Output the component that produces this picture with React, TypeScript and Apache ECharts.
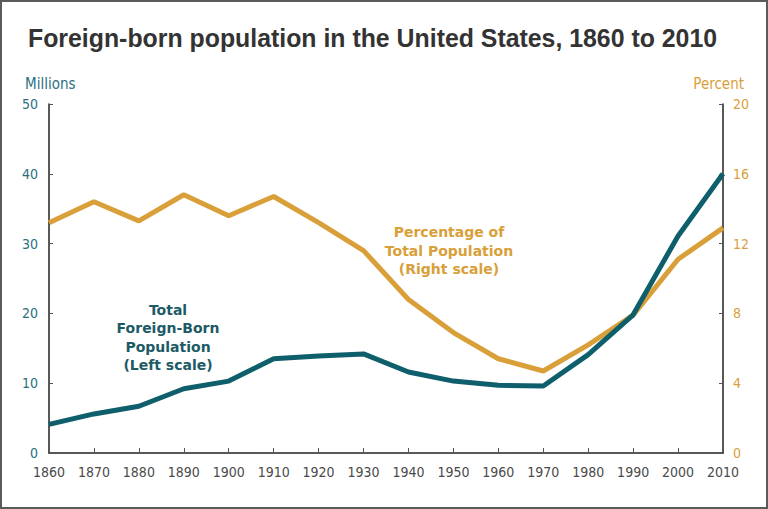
import React, { useEffect, useRef } from "react";
import * as echarts from "echarts";

const years = ["1860","1870","1880","1890","1900","1910","1920","1930","1940","1950","1960","1970","1980","1990","2000","2010"];
const foreignBornMillions = [4.1, 5.6, 6.7, 9.2, 10.3, 13.5, 13.9, 14.2, 11.6, 10.3, 9.7, 9.6, 14.1, 19.8, 31.1, 40.0];
const percentOfTotal = [13.2, 14.4, 13.3, 14.8, 13.6, 14.7, 13.2, 11.6, 8.8, 6.9, 5.4, 4.7, 6.2, 7.9, 11.1, 12.9];

const TITLE = "Foreign-born population in the United States, 1860 to 2010";
const TEAL = "#0e5f6b";
const TEAL_TEXT = "#2a7080";
const ORANGE = "#d9a03a";
const TICK_FONT = "'DejaVu Sans Condensed', 'DejaVu Sans', sans-serif";
const LABEL_FONT = "'DejaVu Sans', 'Noto Sans', sans-serif";
const TITLE_FONT = "bold 26.5px 'Liberation Sans', Arial, sans-serif";
const TITLE_WIDTH = 689;

function measure(text: string, font: string): number {
  const c = document.createElement("canvas");
  const ctx = c.getContext("2d");
  if (!ctx) return TITLE_WIDTH;
  ctx.font = font;
  return ctx.measureText(text).width || TITLE_WIDTH;
}

export default function App() {
  const ref = useRef<HTMLDivElement>(null);
  useEffect(() => {
    if (!ref.current) return;
    const chart = echarts.init(ref.current, undefined, { renderer: "svg" });
    const titleScale = TITLE_WIDTH / measure(TITLE, TITLE_FONT);
    chart.setOption({
      animation: false,
      backgroundColor: "#ffffff",
      grid: { left: 47, right: 43, top: 102, bottom: 54, containLabel: false },
      xAxis: {
        type: "category",
        data: years,
        boundaryGap: false,
        axisLine: { lineStyle: { color: "#222", width: 1.5 } },
        axisTick: { inside: true, length: 5, lineStyle: { color: "#555" } },
        axisLabel: { color: "#4a4a4a", fontFamily: TICK_FONT, fontSize: 14, margin: 12 },
        splitLine: { show: false },
      },
      yAxis: [
        {
          type: "value",
          min: 0,
          max: 50,
          interval: 10,
          name: "Millions",
          nameLocation: "end",
          nameGap: 13,
          nameTextStyle: { color: TEAL_TEXT, fontFamily: TICK_FONT, fontSize: 15, align: "left", padding: [0, 0, 0, -24] },
          axisLine: { show: true, lineStyle: { color: "#222", width: 1.5 } },
          axisTick: { show: true, inside: true, length: 4, lineStyle: { color: "#555" } },
          axisLabel: { color: TEAL_TEXT, fontFamily: TICK_FONT, fontSize: 14, margin: 11 },
          splitLine: { show: false },
        },
        {
          type: "value",
          min: 0,
          max: 20,
          interval: 4,
          position: "right",
          name: "Percent",
          nameLocation: "end",
          nameGap: 13,
          nameTextStyle: { color: ORANGE, fontFamily: TICK_FONT, fontSize: 15, align: "right", padding: [0, -21, 0, 0] },
          axisLine: { show: true, lineStyle: { color: "#222", width: 1.5 } },
          axisTick: { show: true, inside: true, length: 4, lineStyle: { color: "#555" } },
          axisLabel: { color: ORANGE, fontFamily: TICK_FONT, fontSize: 14, margin: 10 },
          splitLine: { show: false },
        },
      ],
      series: [
        {
          type: "line",
          name: "Percentage of Total Population",
          yAxisIndex: 1,
          data: percentOfTotal,
          symbol: "none",
          lineStyle: { color: ORANGE, width: 5 },
          z: 2,
        },
        {
          type: "line",
          name: "Total Foreign-Born Population",
          yAxisIndex: 0,
          data: foreignBornMillions,
          symbol: "none",
          lineStyle: { color: TEAL, width: 5 },
          z: 3,
        },
      ],
      graphic: [
        {
          type: "text",
          x: 26,
          y: 36,
          scaleX: titleScale,
          style: {
            text: TITLE,
            fill: "#333333",
            font: TITLE_FONT,
            align: "left",
            verticalAlign: "middle",
          },
        },
        {
          type: "text",
          x: 447,
          y: 221,
          style: {
            text: "Percentage of\nTotal Population\n(Right scale)",
            fill: ORANGE,
            font: `600 14px ${LABEL_FONT}`,
            align: "center",
            verticalAlign: "top",
            lineHeight: 18.5,
          },
        },
        {
          type: "text",
          x: 166,
          y: 299,
          style: {
            text: "Total\nForeign-Born\nPopulation\n(Left scale)",
            fill: "#1d5a66",
            font: `600 14px ${LABEL_FONT}`,
            align: "center",
            verticalAlign: "top",
            lineHeight: 18.3,
          },
        },
      ],
    });
    return () => chart.dispose();
  }, []);
  return (
    <div
      style={{
        position: "absolute",
        left: 0,
        top: 0,
        width: 768,
        height: 509,
        boxSizing: "border-box",
        border: "2px solid #5a5a5a",
        background: "#fff",
      }}
    >
      <div ref={ref} style={{ width: 764, height: 505 }} />
    </div>
  );
}
